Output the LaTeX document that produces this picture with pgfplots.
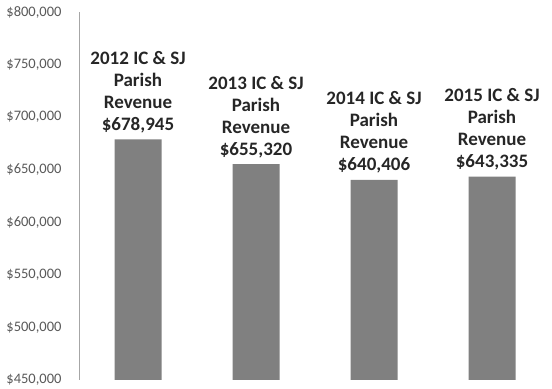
\documentclass[border=0pt]{standalone}
\usepackage{pgfplots}
\pgfplotsset{compat=1.18}
\usepackage{fontspec}
\setmainfont{Carlito}
\definecolor{bargray}{HTML}{808080}
\definecolor{axgray}{HTML}{A6A6A6}
\definecolor{ticktext}{HTML}{595959}
\begin{document}
\begin{tikzpicture}
\begin{axis}[
  scale only axis,
  width=472pt, height=368pt,
  ybar, bar width=47pt,
  xmin=-0.5, xmax=3.5,
  ymin=450000, ymax=800000,
  ytick distance=50000,
  scaled y ticks=false,
  axis x line=none,
  axis y line*=left,
  y axis line style={axgray, line width=0.8pt},
  major tick length=0pt,
  /pgf/number format/assume math mode=true,
  yticklabel={\$\pgfmathprintnumber[fixed,precision=0,1000 sep={,}]{\tick}},
  yticklabel style={font=\fontsize{14.5}{16}\selectfont, text=ticktext, xshift=-14pt},
  point meta=explicit symbolic,
  nodes near coords={\pgfplotspointmeta},
  nodes near coords style={font=\bfseries\fontsize{19}{22}\selectfont, align=center, anchor=south, yshift=3pt, text=black!85},
]
\addplot[fill=bargray, draw=none] coordinates {
  (0,678945) [2012 IC \& SJ\\Parish\\Revenue\\\$678,945]
  (1,655320) [2013 IC \& SJ\\Parish\\Revenue\\\$655,320]
  (2,640406) [2014 IC \& SJ\\Parish\\Revenue\\\$640,406]
  (3,643335) [2015 IC \& SJ\\Parish\\Revenue\\\$643,335]
};
\coordinate (SW) at (rel axis cs:0,0);
\coordinate (NE) at (rel axis cs:1,1);
\end{axis}
\pgfresetboundingbox
\path ([xshift=-79pt,yshift=-9pt]SW) rectangle ([xshift=1pt,yshift=12pt]NE);
\end{tikzpicture}
\end{document}
